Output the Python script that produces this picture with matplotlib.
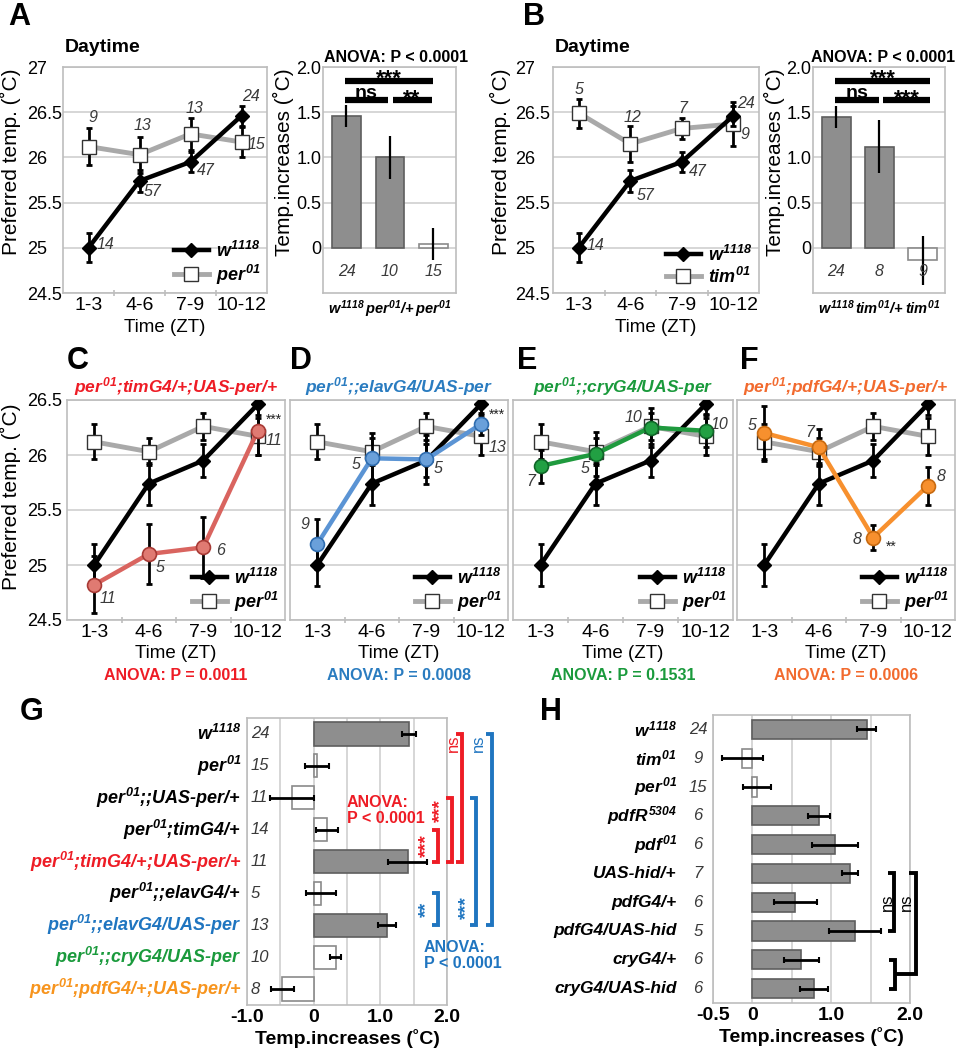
import matplotlib
matplotlib.use('Agg')
import matplotlib.pyplot as plt
import matplotlib.transforms as mtransforms
import numpy as np

plt.rcParams['font.family'] = ['Liberation Sans', 'DejaVu Sans']
plt.rcParams['mathtext.fontset'] = 'custom'
for k in ('rm', 'it', 'bf', 'sf'):
    plt.rcParams['mathtext.' + k] = 'Liberation Sans:italic:bold'

# ---------------- data ----------------
zt = ['1-3', '4-6', '7-9', '10-12']

# A / B daytime curves
w_mean = [25.0, 25.74, 25.95, 26.46]
w_err = [0.16, 0.12, 0.11, 0.11]
w_n = [14, 57, 47, 24]
per_mean = [26.12, 26.03, 26.26, 26.17]
per_err = [0.2, 0.2, 0.18, 0.17]
per_n = [9, 13, 13, 15]
tim_mean = [26.49, 26.15, 26.32, 26.37]
tim_err = [0.16, 0.2, 0.12, 0.24]
tim_n = [5, 12, 7, 9]

# reference curves as redrawn in C-F
w_err_cf = [0.19, 0.19, 0.15, 0.1]
per_err_cf = [0.16, 0.12, 0.12, 0.17]

# rescue lines C-F
timg_mean = [24.82, 25.10, 25.16, 26.22]
timg_err = [0.26, 0.27, 0.28, 0.22]
timg_n = [11, 5, 6, 11]
elav_mean = [25.19, 25.97, 25.96, 26.28]
elav_err = [0.23, 0.23, 0.22, 0.1]
elav_n = [9, 5, 5, 13]
cry_mean = [25.90, 26.01, 26.25, 26.22]
cry_err = [0.15, 0.2, 0.18, 0.15]
cry_n = [7, 5, 10, 10]
pdf_mean = [26.20, 26.07, 25.25, 25.72]
pdf_err = [0.25, 0.17, 0.11, 0.17]
pdf_n = [5, 7, 8, 8]
rescue_titles = [r'$per^{01}$;timG4/+;UAS-per/+', r'$per^{01}$;;elavG4/UAS-per',
                 r'$per^{01}$;;cryG4/UAS-per', r'$per^{01}$;pdfG4/+;UAS-per/+']
rescue_p = ['0.0011', '0.0008', '0.1531', '0.0006']

# bar insets A / B
bar_a_labels = [r'$w^{1118}$', r'$per^{01}$/+', r'$per^{01}$']
bar_a = [1.46, 1.0, 0.04]
bar_a_err = [0.125, 0.24, 0.18]
bar_a_n = [24, 10, 15]
bar_b_labels = [r'$w^{1118}$', r'$tim^{01}$/+', r'$tim^{01}$']
bar_b = [1.45, 1.12, -0.14]
bar_b_err = [0.12, 0.29, 0.27]
bar_b_n = [24, 8, 9]
bar_filled = [True, True, False]

# G
g_labels = [r'$w^{1118}$', r'$per^{01}$', r'$per^{01}$;;UAS-per/+', r'$per^{01}$;timG4/+',
            r'$per^{01}$;timG4/+;UAS-per/+', r'$per^{01}$;;elavG4/+', r'$per^{01}$;;elavG4/UAS-per',
            r'$per^{01}$;;cryG4/UAS-per', r'$per^{01}$;pdfG4/+;UAS-per/+']
g_vals = [1.43, 0.05, -0.33, 0.2, 1.41, 0.11, 1.1, 0.33, -0.47]
g_err = [0.11, 0.18, 0.33, 0.16, 0.29, 0.22, 0.14, 0.08, 0.17]
g_n = [24, 15, 11, 14, 11, 5, 13, 10, 8]
g_filled = [True, False, False, False, True, False, True, False, False]

# H
h_labels = [r'$w^{1118}$', r'$tim^{01}$', r'$per^{01}$', r'$pdfR^{5304}$', r'$pdf^{01}$',
            'UAS-hid/+', 'pdfG4/+', 'pdfG4/UAS-hid', 'cryG4/+', 'cryG4/UAS-hid']
h_vals = [1.45, -0.13, 0.06, 0.84, 1.05, 1.24, 0.545, 1.3, 0.62, 0.78]
h_err = [0.12, 0.26, 0.18, 0.14, 0.29, 0.1, 0.27, 0.33, 0.22, 0.18]
h_n = [24, 9, 15, 6, 6, 7, 6, 5, 6, 6]
h_filled = [True, False, False, True, True, True, True, True, True, True]

# ---------------- style ----------------
GRID = '#cfcfcf'
FRAME = '#bdbdbd'
BAR = '#8e8e8e'
BAR_EDGE = '#5e5e5e'
N_COLOR = '#3a3a3a'
RED = '#ee1c25'
BLUE = '#1f75c0'
GREEN = '#1a9a3c'
ORANGE = '#f7941d'
title_colors = [RED, '#2a7cc0', GREEN, '#f26a2e']
rescue_styles = [
    dict(color='#d9645f', mfc='#e07a72', mec='#a83a35'),
    dict(color='#5b94d4', mfc='#6aa0da', mec='#2f6db0'),
    dict(color='#1f9a3e', mfc='#22a043', mec='#106628'),
    dict(color='#f7902e', mfc='#f7902e', mec='#c86a10'),
]
W_STYLE = dict(color='black', lw=3.2, marker='D', ms=7, mfc='black', mec='black', mew=1)
P_STYLE = dict(color='#a9a9a9', lw=3.5, marker='s', ms=10, mfc='white', mec='#333333', mew=1)

W, H = 958, 1050
fig = plt.figure(figsize=(W / 100, H / 100), dpi=100)


def px_axes(x0, y0, x1, y1):
    return fig.add_axes([x0 / W, 1 - y1 / H, (x1 - x0) / W, (y1 - y0) / H])


def ftext(x, y, s, **kw):
    return fig.text(x / W, 1 - y / H, s, **kw)


def frame(ax):
    for s in ax.spines.values():
        s.set_color(FRAME)
        s.set_linewidth(1.2)


def line_axes(ax, ylim, yticks, show_y, pad):
    ax.set_xlim(-0.5, 3.5)
    ax.set_ylim(*ylim)
    ax.set_yticks(yticks)
    ax.yaxis.grid(True, color=GRID, lw=1.2)
    ax.set_axisbelow(True)
    ax.set_xticks(range(4))
    ax.set_xticklabels(zt, fontsize=14)
    ax.set_xticks([0.5, 1.5, 2.5], minor=True)
    ax.tick_params(axis='x', which='major', length=0, pad=3)
    ax.tick_params(axis='x', which='minor', length=5, color=FRAME, width=1.2, direction='inout')
    ax.tick_params(axis='y', length=0, labelsize=13, pad=pad)
    if show_y:
        ax.set_yticklabels(['%g' % t for t in yticks])
        for lbl in ax.get_yticklabels():
            lbl.set_ha('left')
    else:
        ax.set_yticklabels([])
    frame(ax)


def draw_series(ax, mean, err, style, z):
    x = np.arange(len(mean))
    ax.errorbar(x, mean, yerr=err, fmt='none', ecolor='black', elinewidth=2,
                capsize=2.5, capthick=2, zorder=z)
    line, = ax.plot(x, mean, zorder=z + 0.5, **style)
    return line


def n_labels(ax, mean, ns, offsets):
    for i, (n, (dx, dy)) in enumerate(zip(ns, offsets)):
        ax.annotate(str(n), (i, mean[i]), xytext=(dx * 0.72, dy * 0.72),
                    textcoords='offset points', ha='center', va='center',
                    fontsize=11.5, style='italic', color=N_COLOR, zorder=6)


def ref_legend(ax, hw, hp, lab2):
    ax.legend([hw, hp], [r'$w^{1118}$', lab2], loc='lower right', frameon=False,
              fontsize=13, handlelength=1.9, handletextpad=0.4, labelspacing=0.1,
              borderaxespad=0.15, borderpad=0.2)


def bar_inset(ax, labels, vals, errs, ns, sig):
    x = np.arange(len(vals))
    ax.bar(x, vals, width=0.66, color=[BAR if f else 'white' for f in bar_filled],
           edgecolor=[BAR_EDGE if f else '#8a8a8a' for f in bar_filled], lw=1.2, zorder=2)
    ax.errorbar(x, vals, yerr=errs, fmt='none', ecolor='black', elinewidth=1.6,
                capsize=0, zorder=3)
    ax.set_xlim(-0.54, 2.52)
    ax.set_ylim(-0.5, 2.0)
    ax.set_yticks([0, 0.5, 1.0, 1.5, 2.0])
    ax.set_yticklabels(['0', '0.5', '1.0', '1.5', '2.0'])
    ax.tick_params(axis='y', length=0, labelsize=13, pad=1)
    ax.yaxis.grid(True, color=GRID, lw=1.2)
    ax.set_axisbelow(True)
    ax.set_xticks(x)
    ax.set_xticklabels(labels, fontsize=10.5, fontweight='bold', style='italic')
    ax.tick_params(axis='x', length=0, pad=4)
    for i, n in enumerate(ns):
        ax.text(i, -0.26, str(n), ha='center', va='center', fontsize=11.5,
                style='italic', color=N_COLOR)
    for x0, x1, y, txt, ty in sig:
        ax.plot([x0, x1], [y, y], color='black', lw=4.5, solid_capstyle='butt',
                clip_on=False, zorder=4)
        ax.text((x0 + x1) / 2, ty, txt, ha='center', va='baseline',
                fontsize=16 if '*' in txt else 14, fontweight='bold', zorder=5,
                clip_on=False)
    frame(ax)


def hbars(ax, vals, errs, filled, height, xticks, xticklabels):
    y = np.arange(len(vals))
    ax.barh(y, vals, height=height, color=[BAR if f else 'white' for f in filled],
            edgecolor=[BAR_EDGE if f else '#8a8a8a' for f in filled], lw=1.2, zorder=2)
    ax.errorbar(vals, y, xerr=errs, fmt='none', ecolor='black', elinewidth=2,
                capsize=2.5, capthick=1.5, zorder=3)
    ax.set_ylim(len(vals) - 0.5, -0.5)
    ax.set_yticks([])
    ax.set_xlim(xticks[0], xticks[-1])
    ax.set_xticks(xticks)
    ax.set_xticklabels(xticklabels, fontsize=14, fontweight='bold')
    ax.tick_params(axis='x', length=0, pad=3)
    ax.xaxis.grid(True, color=GRID, lw=1.2)
    ax.set_axisbelow(True)
    ax.set_xlabel('Temp.increases (˚C)', fontsize=14, fontweight='bold', labelpad=2)
    frame(ax)


def bracket(ax, x, r0, r1, color, tick=0.09):
    ax.plot([x - tick, x, x, x - tick], [r0, r0, r1, r1], color=color, lw=2.8,
            clip_on=False, solid_joinstyle='miter', solid_capstyle='butt', zorder=5)


def vtext(ax, x, y, s, color, fs=14, weight='bold'):
    ax.text(x, y, s, rotation=90, ha='center', va='center', fontsize=fs,
            fontweight=weight, color=color, clip_on=False)


# ---------------- A / B line panels ----------------
for (x0, x1), mut_mean, mut_err, mut_n, mut_lab, mut_off, w_off, pad in [
        ((63, 267), per_mean, per_err, per_n, r'$per^{01}$',
         [(4, 29), (3, 29), (4, 25), (15, -2)],
         [(17, 3), (13, -11), (15, -9), (9, 19)], 26),
        ((553, 759), tim_mean, tim_err, tim_n, r'$tim^{01}$',
         [(0, 24), (2, 26), (1, 20), (12, -11)],
         [(17, 2), (15, -15), (16, -10), (13, 12)], 27)]:
    ax = px_axes(x0, 67, x1, 293)
    line_axes(ax, (24.5, 27), [24.5, 25, 25.5, 26, 26.5, 27], True, pad)
    hp = draw_series(ax, mut_mean, mut_err, P_STYLE, 2)
    hw = draw_series(ax, w_mean, w_err, W_STYLE, 3)
    n_labels(ax, mut_mean, mut_n, mut_off)
    n_labels(ax, w_mean, w_n, w_off)
    ref_legend(ax, hw, hp, mut_lab)
    ftext(x0 + 2, 48, 'Daytime', fontsize=14, fontweight='bold', va='center')
    ftext((x0 + x1) / 2, 327, 'Time (ZT)', fontsize=13.5, ha='center', va='center')
    ftext(x0 - 53, 162, 'Preferred temp. (˚C)', fontsize=15, rotation=90,
          ha='center', va='center')

# ---------------- A / B bar insets ----------------
axa = px_axes(323, 67, 456, 293)
bar_inset(axa, bar_a_labels, bar_a, bar_a_err, bar_a_n,
          [(-0.04, 2.0, 1.85, '***', 1.80), (-0.04, 0.96, 1.64, 'ns', 1.66),
           (1.06, 1.96, 1.64, '**', 1.585)])
axb = px_axes(813, 67, 945, 293)
bar_inset(axb, bar_b_labels, bar_b, bar_b_err, bar_b_n,
          [(-0.04, 2.18, 1.85, '***', 1.80), (-0.04, 0.98, 1.64, 'ns', 1.66),
           (1.08, 2.18, 1.64, '***', 1.585)])
for xc, xl in [(396, 283), (883, 774)]:
    ftext(xc, 58, 'ANOVA: P < 0.0001', fontsize=11.5, fontweight='bold', ha='center', va='center')
    ftext(xl, 162, 'Temp.increases (˚C)', fontsize=15, rotation=90, ha='center', va='center')

# ---------------- C-F rescue panels ----------------
rescue_means = [timg_mean, elav_mean, cry_mean, pdf_mean]
rescue_errs = [timg_err, elav_err, cry_err, pdf_err]
rescue_ns = [timg_n, elav_n, cry_n, pdf_n]
rescue_offsets = [
    [(14, -14), (11, -13), (17, -3), (16, -10)],
    [(-12, 20), (-16, -6), (12, -9), (17, -23)],
    [(-10, -15), (-10, -15), (-17, 10), (14, 6)],
    [(-12, 8), (-9, 15), (-16, -2), (13, 9)],
]
panel_x = [(67, 285), (290, 508), (513, 733), (737, 955)]
rescue_axes = []
for k in range(4):
    x0, x1 = panel_x[k]
    ax = px_axes(x0, 400, x1, 620)
    rescue_axes.append(ax)
    line_axes(ax, (24.5, 26.5), [24.5, 25, 25.5, 26, 26.5], k == 0, 29)
    hp = draw_series(ax, per_mean, per_err_cf, P_STYLE, 2)
    hw = draw_series(ax, w_mean, w_err_cf, W_STYLE, 3)
    st = rescue_styles[k]
    draw_series(ax, rescue_means[k], rescue_errs[k],
                dict(color=st['color'], lw=3.2, marker='o', ms=10, mfc=st['mfc'],
                     mec=st['mec'], mew=1.2), 4)
    n_labels(ax, rescue_means[k], rescue_ns[k], rescue_offsets[k])
    ref_legend(ax, hw, hp, r'$per^{01}$')
    xc = (x0 + x1) / 2
    ftext(xc, 387, rescue_titles[k], fontsize=12.5, fontweight='bold', style='italic',
          color=title_colors[k], ha='center', va='center')
    ftext(xc, 654, 'Time (ZT)', fontsize=13.5, ha='center', va='center')
    ftext(xc, 675, 'ANOVA: P = ' + rescue_p[k], fontsize=11.5, fontweight='bold',
          color=title_colors[k], ha='center', va='center')
    if k == 0:
        ftext(10, 497, 'Preferred temp. (˚C)', fontsize=15, rotation=90,
              ha='center', va='center')
# significance stars on C, D, F
for k, idx, txt, off in [(0, 3, '***', (16, 11)), (1, 3, '***', (16, 9)), (3, 2, '**', (18, -9))]:
    rescue_axes[k].annotate(txt, (idx, rescue_means[k][idx]),
                            xytext=(off[0] * 0.72, off[1] * 0.72),
                            textcoords='offset points', ha='center', va='center',
                            fontsize=10, color='#222222', zorder=6)

# ---------------- G ----------------
axg = px_axes(247, 718, 447, 1005)
hbars(axg, g_vals, g_err, g_filled, 0.73, [-1.0, -0.5, 0, 0.5, 1.0, 1.5, 2.0],
      ['-1.0', '', '0', '', '1.0', '', '2.0'])
g_colors = ['black'] * 9
g_colors[4], g_colors[6], g_colors[7], g_colors[8] = RED, BLUE, GREEN, ORANGE
trans_g = mtransforms.blended_transform_factory(axg.transAxes, axg.transData)
for i, lab in enumerate(g_labels):
    axg.text(-0.028, i, lab, transform=trans_g, ha='right', va='center', fontsize=13,
             fontweight='bold', style='italic', color=g_colors[i])
    axg.text(-0.94, i, str(g_n[i]), ha='left', va='center', fontsize=12,
             style='italic', color=N_COLOR, zorder=6)
bracket(axg, 1.86, 3, 4, RED)
vtext(axg, 1.70, 3.5, '***', RED)
bracket(axg, 2.08, 2, 4, RED)
vtext(axg, 1.91, 2.4, '***', RED)
bracket(axg, 2.22, 0, 4, RED)
vtext(axg, 2.10, 0.3, 'ns', RED, 12, 'normal')
bracket(axg, 1.86, 5, 6, BLUE)
vtext(axg, 1.70, 5.5, '**', BLUE)
bracket(axg, 2.44, 2, 6, BLUE)
vtext(axg, 2.29, 5.45, '***', BLUE)
bracket(axg, 2.67, 0, 6, BLUE)
vtext(axg, 2.47, 0.3, 'ns', BLUE, 12, 'normal')
axg.text(0.5, 2.4, 'ANOVA:\nP < 0.0001', color=RED, fontsize=11.5, fontweight='bold',
         ha='left', va='center', linespacing=1.15)
axg.text(1.65, 6.95, 'ANOVA:\nP < 0.0001', color=BLUE, fontsize=11.5, fontweight='bold',
         ha='left', va='center', linespacing=1.15, clip_on=False)

# ---------------- H ----------------
axh = px_axes(713, 715, 910, 1003)
hbars(axh, h_vals, h_err, h_filled, 0.67, [-0.5, 0, 0.5, 1.0, 1.5, 2.0],
      ['-0.5', '0', '', '1.0', '', '2.0'])
trans_h = mtransforms.blended_transform_factory(axh.transAxes, axh.transData)
for i, lab in enumerate(h_labels):
    axh.text(-0.183, i, lab, transform=trans_h, ha='right', va='center', fontsize=12.5,
             fontweight='bold', style='italic')
    axh.text(-0.076, i, str(h_n[i]), transform=trans_h, ha='center', va='center',
             fontsize=12, style='italic', color=N_COLOR)
bracket(axh, 1.80, 5, 7, 'black', 0.08)
vtext(axh, 1.71, 6, 'ns', 'black', 12, 'normal')
bracket(axh, 1.81, 8, 9, 'black', 0.08)
axh.plot([1.81, 2.08, 2.08, 1.99], [8.5, 8.5, 5, 5], color='black', lw=2.8,
         clip_on=False, solid_joinstyle='miter', solid_capstyle='butt', zorder=5)
vtext(axh, 1.96, 6, 'ns', 'black', 12, 'normal')

# ---------------- panel letters ----------------
for letter, x, y in [('A', 8, 2), ('B', 523, 2), ('C', 67, 346), ('D', 290, 346),
                     ('E', 517, 346), ('F', 740, 346), ('G', 20, 697), ('H', 540, 697)]:
    ftext(x, y, letter, fontsize=22, fontweight='bold', va='top', ha='left')

fig.savefig('out.png', dpi=100)
